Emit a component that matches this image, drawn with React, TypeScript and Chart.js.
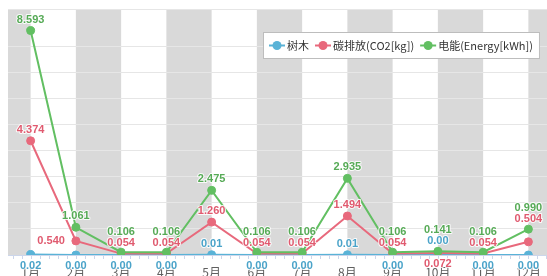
import React, { useEffect, useRef } from 'react';
import { Chart, registerables } from 'chart.js';

Chart.register(...registerables);

const months = ['1月', '2月', '3月', '4月', '5月', '6月', '7月', '8月', '9月', '10月', '11月', '12月'];
const treeValues = [0.02, 0.0, 0.0, 0.0, 0.01, 0.0, 0.0, 0.01, 0.0, 0.0, 0.0, 0.0];
const co2Values = [4.374, 0.54, 0.054, 0.054, 1.26, 0.054, 0.054, 1.494, 0.054, 0.072, 0.054, 0.504];
const energyValues = [8.593, 1.061, 0.106, 0.106, 2.475, 0.106, 0.106, 2.935, 0.106, 0.141, 0.106, 0.99];
const yMax = 9.42;

// label placement modes (layout config, not data)
const treeLabelMode = ['below', 'below', 'below', 'below', 'above', 'below', 'below', 'above', 'below', 'above', 'below', 'below'];
const co2LabelMode = ['above', 'left', 'above', 'above', 'above', 'above', 'above', 'above', 'above', 'below', 'above', 'above'];
const energyLabelMode = ['above', 'above', 'above', 'above', 'above', 'above', 'above', 'above', 'above', 'above', 'above', 'above'];

const BLUE = '#5ab3d7';
const RED = '#e8697c';
const GREEN = '#62bf62';

const bandPlugin = {
  id: 'bands',
  beforeDraw(chart: any) {
    const { ctx, chartArea } = chart;
    const x = chart.scales.x;
    const n = chart.data.labels.length;
    ctx.save();
    ctx.fillStyle = '#d9d9d9';
    for (let i = -1; i < n; i++) {
      if (Math.abs(i) % 2 !== 1) continue;
      const a = i < 0 ? chartArea.left : x.getPixelForValue(i);
      const b = i + 1 >= n ? chartArea.right : x.getPixelForValue(i + 1);
      ctx.fillRect(a, chartArea.top, b - a, chartArea.bottom - chartArea.top);
    }
    ctx.restore();
  },
  beforeDatasetsDraw(chart: any) {
    const { ctx, chartArea } = chart;
    const x = chart.scales.x;
    const step = (x.getPixelForValue(1) - x.getPixelForValue(0)) / 5;
    ctx.save();
    ctx.strokeStyle = '#ccd6eb';
    ctx.lineWidth = 1;
    ctx.beginPath();
    for (let px = x.getPixelForValue(0); px <= chartArea.right + 0.5; px += step) {
      const xx = Math.round(px) + 0.5;
      ctx.moveTo(xx, chartArea.bottom + 1);
      ctx.lineTo(xx, chartArea.bottom + 4);
    }
    for (let px = x.getPixelForValue(0) - step; px >= chartArea.left - 0.5; px -= step) {
      const xx = Math.round(px) + 0.5;
      ctx.moveTo(xx, chartArea.bottom + 1);
      ctx.lineTo(xx, chartArea.bottom + 4);
    }
    ctx.stroke();
    ctx.restore();
  },
};

const labelPlugin = {
  id: 'valueLabels',
  afterDatasetsDraw(chart: any) {
    const ctx = chart.ctx;
    const n = chart.data.labels.length;
    const dsets = chart.data.datasets;
    ctx.save();
    ctx.font = 'bold 11px "Liberation Sans", Arial, sans-serif';
    ctx.lineJoin = 'round';
    const H = 5;
    for (let j = 0; j < n; j++) {
      const obstacles: any[] = [];
      const pts = dsets.map((d: any, i: number) => chart.getDatasetMeta(i).data[j]);
      pts.forEach((p: any, i: number) => {
        obstacles.push({ l: p.x - 4.5, r: p.x + 4.5, t: p.y - 4.5, b: p.y + 4.5, owner: i });
      });
      const items = dsets.map((d: any, i: number) => {
        const text = Number(d.data[j]).toFixed(d.decimals);
        return { i, text, w: ctx.measureText(text).width, mode: d.labelModes[j], p: pts[i], color: d.labelColor };
      });
      const placed: any[] = [];
      items.forEach((it: any) => {
        if (it.mode === 'below') {
          it.x = it.p.x; it.y = it.p.y + 11; it.align = 'center';
        } else if (it.mode === 'left') {
          it.x = it.p.x - 11; it.y = it.p.y; it.align = 'right';
        } else return;
        const l = it.align === 'right' ? it.x - it.w : it.x - it.w / 2;
        obstacles.push({ l, r: l + it.w, t: it.y - H, b: it.y + H, owner: -1 });
        placed.push(it);
      });
      const above = items.filter((it: any) => it.mode === 'above').sort((a: any, b: any) => b.p.y - a.p.y);
      above.forEach((it: any) => {
        let y = it.p.y - 11;
        const l = it.p.x - it.w / 2;
        const r = it.p.x + it.w / 2;
        for (let k = 0; k < 20; k++) {
          const hit = obstacles.find((o) => o.owner !== it.i && o.l < r && o.r > l && o.t < y + H && o.b > y - H);
          if (!hit) break;
          y = hit.t - 1 - H;
        }
        it.x = it.p.x; it.y = y; it.align = 'center';
        obstacles.push({ l, r, t: y - H, b: y + H, owner: -1 });
        placed.push(it);
      });
      placed.forEach((it: any) => {
        ctx.textAlign = it.align;
        ctx.textBaseline = 'middle';
        ctx.strokeStyle = 'rgba(255,255,255,0.85)';
        ctx.lineWidth = 2;
        ctx.strokeText(it.text, it.x, it.y);
        ctx.fillStyle = it.color;
        ctx.fillText(it.text, it.x, it.y);
      });
    }
    ctx.restore();
  },
  afterDraw(chart: any) {
    const ctx = chart.ctx;
    const dsets = chart.data.datasets;
    ctx.save();
    ctx.font = '11px "Noto Sans CJK SC", sans-serif';
    const left = 263, top = 32, h = 26;
    const widths = dsets.map((d: any) => ctx.measureText(d.label).width);
    let total = 0;
    widths.forEach((w: number) => { total += 14 + 10 + w; });
    total += 6;
    ctx.fillStyle = '#ffffff';
    ctx.fillRect(left + 0.5, top + 0.5, total, h);
    ctx.strokeStyle = '#bdbdbd';
    ctx.lineWidth = 1;
    ctx.strokeRect(left + 0.5, top + 0.5, total, h);
    let x = left;
    const cy = top + h / 2 + 0.5;
    dsets.forEach((d: any, i: number) => {
      const cx = x + 14;
      ctx.strokeStyle = d.borderColor;
      ctx.lineWidth = 2;
      ctx.beginPath();
      ctx.moveTo(cx - 8, cy);
      ctx.lineTo(cx + 8, cy);
      ctx.stroke();
      ctx.fillStyle = d.backgroundColor;
      ctx.beginPath();
      ctx.arc(cx, cy, 4.5, 0, Math.PI * 2);
      ctx.fill();
      ctx.fillStyle = '#333333';
      ctx.textAlign = 'left';
      ctx.textBaseline = 'middle';
      ctx.fillText(d.label, cx + 10, cy);
      x = cx + 10 + widths[i];
    });
    ctx.restore();
  },
};

export default function App() {
  const ref = useRef<HTMLCanvasElement>(null);
  useEffect(() => {
    document.body.style.margin = '0';
    document.documentElement.style.overflow = 'hidden';
    document.body.style.overflow = 'hidden';
    const mk = (label: string, data: number[], color: string, modes: string[], labelColor: string, decimals: number, order: number) => ({
      label,
      data,
      borderColor: color,
      backgroundColor: color,
      pointBackgroundColor: color,
      pointBorderColor: color,
      pointRadius: 4,
      pointBorderWidth: 1,
      borderWidth: 2,
      tension: 0,
      fill: false,
      order,
      labelModes: modes,
      labelColor,
      decimals,
    });
    const chart = new Chart(ref.current as HTMLCanvasElement, {
      type: 'line',
      data: {
        labels: months,
        datasets: [
          mk('树木', treeValues, BLUE, treeLabelMode, '#4aa3c9', 2, 2),
          mk('碳排放(CO2[kg])', co2Values, RED, co2LabelMode, '#e05a6f', 3, 1),
          mk('电能(Energy[kWh])', energyValues, GREEN, energyLabelMode, '#56aa56', 3, 0),
        ] as any,
      },
      options: {
        responsive: false,
        animation: false,
        layout: { padding: { left: 8, top: 9, right: 2, bottom: 0 } },
        plugins: { legend: { display: false }, tooltip: { enabled: false } },
        scales: {
          x: {
            type: 'category',
            offset: true,
            grid: { display: false, drawTicks: false },
            border: { display: true, color: '#ccd6eb', width: 1 },
            ticks: {
              color: '#606060',
              padding: 10,
              font: { family: '"Noto Sans CJK SC", sans-serif', size: 12 },
              maxRotation: 0,
              autoSkip: false,
            },
            afterFit: (s: any) => { s.height = 21; },
          },
          y: {
            min: 0,
            max: yMax,
            grid: { color: '#e6e6e6', lineWidth: 1, drawTicks: false },
            border: { display: false },
            ticks: { display: false, stepSize: 1 },
            afterFit: (s: any) => { s.width = 0; },
          },
        },
      },
      plugins: [bandPlugin, labelPlugin],
    } as any);
    return () => chart.destroy();
  }, []);
  return <canvas ref={ref} width={556} height={276} style={{ display: 'block' }} />;
}
